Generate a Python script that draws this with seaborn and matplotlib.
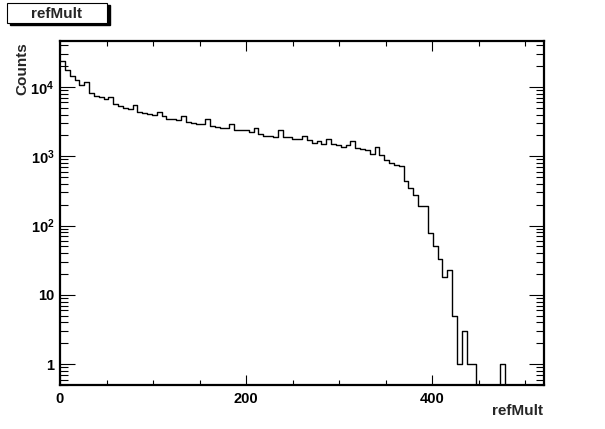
import numpy as np
import pandas as pd
import matplotlib
matplotlib.use("Agg")
import matplotlib.pyplot as plt
from matplotlib.patches import Rectangle
from matplotlib.ticker import FixedLocator, FixedFormatter, MultipleLocator, LogLocator, NullFormatter
import seaborn as sns

# histogram setup (100 bins over 0..520)
x_min, x_max, n_bins = 0, 520, 100

counts = [
    23300, 17700, 14600, 12800, 10700, 11600, 8130, 7470, 7130, 6670,
    7060, 5730, 5240, 5010, 4740, 5550, 4340, 4250, 4110, 3890,
    4400, 3770, 3490, 3490, 3370, 3850, 3160, 3050, 2950, 2950,
    3410, 2760, 2670, 2530, 2530, 2950, 2420, 2370, 2370, 2210,
    2590, 2120, 1990, 1990, 1920, 2420, 1920, 1920, 1800, 1800,
    1990, 1700, 1570, 1640, 1520, 1800, 1520, 1470, 1380, 1470,
    1640, 1330, 1270, 1220, 1090, 1350, 1030, 897, 801, 742,
    718, 441, 343, 272, 189, 189, 77, 50, 33, 18,
    23, 5, 1, 3, 1, 1, 0, 0, 0, 0,
    0, 1, 0, 0, 0, 0, 0, 0, 0, 0,
]

y_ticks = [1, 10, 100, 1000, 10000]
y_tick_labels = ["1", "10", r"$10^{2}$", r"$10^{3}$", r"$10^{4}$"]
x_ticks = [0, 200, 400]
x_tick_labels = ["0", "200", "400"]

bin_w = (x_max - x_min) / n_bins
df = pd.DataFrame({
    "refMult": x_min + (np.arange(n_bins) + 0.5) * bin_w,
    "Counts": counts,
})

sns.set_style("ticks")
plt.rcParams["font.family"] = ["Liberation Sans", "DejaVu Sans"]
plt.rcParams["font.weight"] = "bold"
plt.rcParams["mathtext.fontset"] = "custom"
plt.rcParams["mathtext.rm"] = "Liberation Sans:bold"
plt.rcParams["mathtext.it"] = "Liberation Sans:bold"
plt.rcParams["mathtext.bf"] = "Liberation Sans:bold"

W, H = 605, 429
fig = plt.figure(figsize=(W / 100, H / 100), dpi=100)
fig.patch.set_facecolor("white")
ax = fig.add_axes([60 / W, 1 - 385 / H, 484 / W, 344 / H])

sns.histplot(
    data=df, x="refMult", weights="Counts",
    bins=n_bins, binrange=(x_min, x_max),
    element="step", fill=False, color="black", linewidth=1.0, ax=ax,
)
ax.set_yscale("log")
ax.set_xlim(x_min, x_max)
ax.set_ylim(0.5, 4.6e4)

# ROOT-like axes
for s in ax.spines.values():
    s.set_linewidth(1.6)
    s.set_color("black")
    s.set_visible(True)

ax.xaxis.set_major_locator(FixedLocator(x_ticks))
ax.xaxis.set_major_formatter(FixedFormatter(x_tick_labels))
ax.xaxis.set_minor_locator(MultipleLocator(50))
ax.yaxis.set_major_locator(FixedLocator(y_ticks))
ax.yaxis.set_major_formatter(FixedFormatter(y_tick_labels))
ax.yaxis.set_minor_locator(LogLocator(base=10, subs=np.arange(2, 10)))
ax.yaxis.set_minor_formatter(NullFormatter())

ax.tick_params(axis="both", which="both", direction="in", top=True, right=True,
               width=0.8, colors="black", labelsize=10.5)
ax.tick_params(axis="x", which="major", length=7.2, pad=5)
ax.tick_params(axis="x", which="minor", length=3.6)
ax.tick_params(axis="y", which="major", length=10.8, pad=4)
ax.tick_params(axis="y", which="minor", length=5.6)
for lab in ax.get_xticklabels() + ax.get_yticklabels():
    lab.set_fontweight("bold")

ax.set_xlabel("")
ax.set_ylabel("")
fig.text(543 / W, 1 - 411 / H, "refMult", ha="right", va="center",
         fontsize=11, fontweight="bold")
fig.text(22 / W, 1 - 42 / H, "Counts", ha="center", va="top", rotation=90,
         fontsize=11, fontweight="bold")

# title box with shadow
fig.patches.append(Rectangle((9.5 / W, 1 - 25 / H), 100 / W, 20 / H,
                             transform=fig.transFigure, facecolor="black",
                             edgecolor="black", zorder=5))
fig.patches.append(Rectangle((7 / W, 1 - 23 / H), 100 / W, 20 / H,
                             transform=fig.transFigure, facecolor="white",
                             edgecolor="black", linewidth=0.8, zorder=6))
fig.text(57 / W, 1 - 13.5 / H, "refMult", ha="center", va="center",
         fontsize=11, fontweight="bold", zorder=7)

fig.savefig("out.png", dpi=100)
